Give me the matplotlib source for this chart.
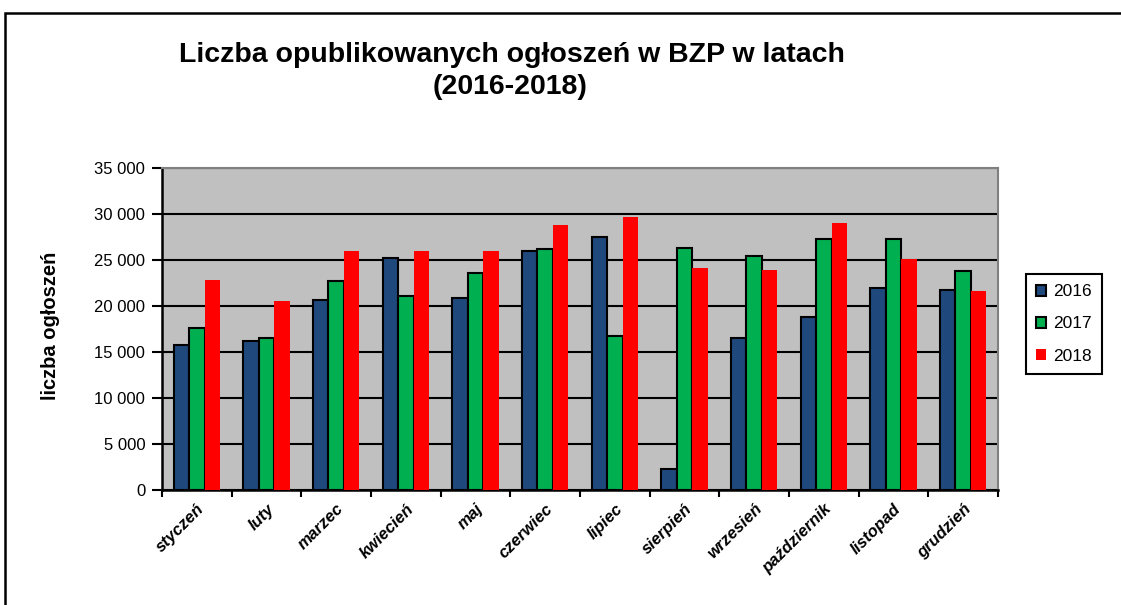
import matplotlib.pyplot as plt
import numpy as np
from matplotlib.patches import Rectangle
from matplotlib.ticker import FuncFormatter

plt.rcParams['font.family'] = ['Liberation Sans', 'DejaVu Sans']

months = ['styczeń', 'luty', 'marzec', 'kwiecień', 'maj', 'czerwiec',
          'lipiec', 'sierpień', 'wrzesień', 'październik', 'listopad', 'grudzień']
years = ['2016', '2017', '2018']
v2016 = [15800, 16250, 20650, 25250, 20900, 25950, 27500, 2300, 16500, 18800, 22000, 21750]
v2017 = [17650, 16500, 22700, 21100, 23600, 26150, 16700, 26350, 25450, 27300, 27300, 23850]
v2018 = [22800, 20500, 26000, 26000, 26000, 28750, 29700, 24150, 23950, 29000, 25100, 21650]

colors = ['#1F497D', '#00B050', '#FF0000']
edges = ['black', 'black', 'none']


def fmt(v, pos):
    return '{:,}'.format(int(v)).replace(',', ' ')


def making_graph():
    fig = plt.figure(figsize=(11.21, 6.05), dpi=100)
    fig.patches.append(Rectangle((5 / 1121, -0.1), 1.2, 1.1 - 13 / 605,
                                 transform=fig.transFigure, fill=False,
                                 edgecolor='black', linewidth=1.8))
    ax = fig.add_axes([162 / 1121, 1 - 490 / 605, (998 - 162) / 1121, (490 - 168) / 605])
    ax.set_facecolor('#C0C0C0')

    x = np.arange(len(months))
    w = 1 / 4.5
    for k, vals in enumerate([v2016, v2017, v2018]):
        ax.bar(x + (k - 1) * w, vals, w, color=colors[k], edgecolor=edges[k],
               linewidth=1.5, label=years[k], zorder=3)

    ax.set_xlim(-0.5, 11.5)
    ax.set_ylim(0, 35000)
    ax.set_yticks(range(0, 35001, 5000))
    ax.yaxis.set_major_formatter(FuncFormatter(fmt))
    ax.grid(axis='y', color='black', linewidth=1.5, zorder=1)
    ax.set_axisbelow(True)

    # ticks on category boundaries, labels on category centres
    ax.set_xticks(np.arange(-0.5, 12, 1))
    ax.set_xticklabels([])
    ax.set_xticks(x, minor=True)
    ax.set_xticklabels(months, minor=True, rotation=45, ha='right',
                       rotation_mode='anchor', fontsize=12, fontweight='bold',
                       fontstyle='italic')
    ax.tick_params(axis='x', which='minor', length=0, pad=8)
    ax.tick_params(axis='x', which='major', length=5, width=1.5, direction='out')
    ax.tick_params(axis='y', length=7, width=1.5, labelsize=12, pad=5)

    for s in ['top', 'right']:
        ax.spines[s].set_color('#808080')
        ax.spines[s].set_linewidth(1.5)
    for s in ['left', 'bottom']:
        ax.spines[s].set_color('black')
        ax.spines[s].set_linewidth(1.8)

    fig.text(51 / 1121, 1 - 326 / 605, 'liczba ogłoszeń', rotation=90,
             ha='center', va='center', fontsize=14.5, fontweight='bold')
    fig.text(512 / 1121, 1 - 55 / 605, 'Liczba opublikowanych ogłoszeń w BZP w latach',
             ha='center', va='center', fontsize=20.5, fontweight='bold')
    fig.text(510 / 1121, 1 - 87 / 605, '(2016-2018)',
             ha='center', va='center', fontsize=20.5, fontweight='bold')

    leg = ax.legend(loc='center', bbox_to_anchor=(1064 / 1121, 1 - 324 / 605),
                    bbox_transform=fig.transFigure, fancybox=False, framealpha=1,
                    edgecolor='black', fontsize=12.5, handlelength=0.6,
                    handleheight=0.6, labelspacing=1.0, handletextpad=0.4,
                    borderpad=0.6)
    leg.get_frame().set_linewidth(1.5)

    fig.savefig('out.png', dpi=100)


def main():
    making_graph()


if __name__ == "__main__":
    main()
